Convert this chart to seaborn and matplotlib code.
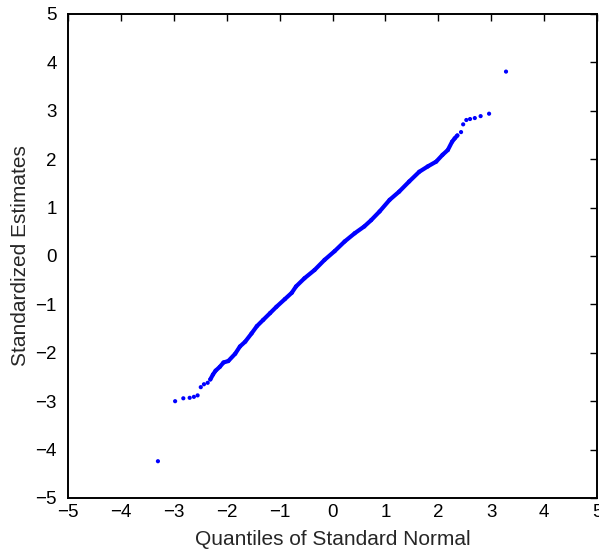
import matplotlib
matplotlib.use("Agg")
import matplotlib.pyplot as plt
import seaborn as sns
import pandas as pd

# Values (normal quantiles vs standardized estimates)
quantiles = [-3.30, -2.975, -2.82, -2.70, -2.62, -2.55, -2.49, -2.43, -2.36, -2.31,
             -2.26, -2.21, -2.13, -2.06, -1.97, -1.84, -1.75, -1.65, -1.53, -1.43,
             -1.31, -1.18, -1.06, -0.90, -0.77, -0.69, -0.53, -0.34, -0.15, 0.04,
             0.23, 0.42, 0.60, 0.73, 0.89, 1.08, 1.26, 1.45, 1.64, 1.80,
             1.96, 2.08, 2.18, 2.26, 2.31, 2.36, 2.43, 2.47, 2.53, 2.60,
             2.69, 2.80, 2.96, 3.28]
estimates = [-4.24, -3.00, -2.94, -2.93, -2.91, -2.88, -2.71, -2.65, -2.62, -2.55,
             -2.45, -2.37, -2.29, -2.20, -2.17, -2.02, -1.87, -1.77, -1.60, -1.45,
             -1.32, -1.18, -1.05, -0.89, -0.76, -0.63, -0.46, -0.29, -0.08, 0.10,
             0.30, 0.47, 0.61, 0.74, 0.92, 1.16, 1.33, 1.54, 1.74, 1.85,
             1.95, 2.09, 2.19, 2.36, 2.43, 2.49, 2.56, 2.72, 2.81, 2.83,
             2.85, 2.89, 2.94, 3.81]
ticks = [-5, -4, -3, -2, -1, 0, 1, 2, 3, 4, 5]
xlabel = "Quantiles of Standard Normal"
ylabel = "Standardized Estimates"

df = pd.DataFrame({"q": quantiles, "e": estimates})
core = df[(df["q"] >= -2.31) & (df["q"] <= 2.36)]

sns.set_style("white")
plt.rcParams["font.family"] = ["Liberation Sans", "DejaVu Sans"]

fig = plt.figure(figsize=(5.99, 5.5), dpi=100)
ax = fig.add_axes([68 / 599, 1 - 498 / 550, (597 - 68) / 599, (498 - 14) / 550])

sns.lineplot(data=core, x="q", y="e", ax=ax, color="#0000ff", linewidth=3.0,
             sort=False, estimator=None)
sns.scatterplot(data=df, x="q", y="e", ax=ax, color="#0000ff", s=9,
                linewidth=0, edgecolor="none")

ax.set_xlim(-5, 5)
ax.set_ylim(-5, 5)
ax.set_xticks(ticks)
ax.set_yticks(ticks)
ax.set_xticklabels([str(t).replace("-", "\u2212") for t in ticks])
ax.set_yticklabels([str(t).replace("-", "\u2212") for t in ticks])
ax.set_xlabel(xlabel, fontsize=15, labelpad=7)
ax.set_ylabel(ylabel, fontsize=15, labelpad=4)
ax.tick_params(axis="both", which="both", direction="in", length=5, width=1,
               top=True, right=True, labelsize=13.5, colors="black")
ax.tick_params(axis="y", pad=8)
ax.tick_params(axis="x", pad=4)
for sp in ax.spines.values():
    sp.set_visible(True)
    sp.set_color("black")
    sp.set_linewidth(1.4)

fig.savefig("out.png", dpi=100)
